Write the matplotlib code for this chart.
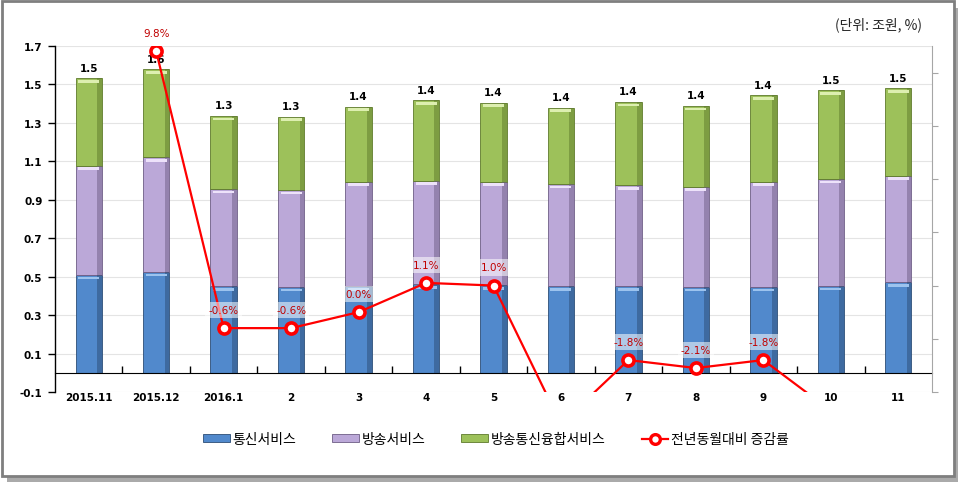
import numpy as np
import matplotlib.pyplot as plt
from matplotlib.patches import Rectangle, Patch
from matplotlib.lines import Line2D

# =========================
# data
# =========================
categories = ["2015.11", "2015.12", "2016.1", "2", "3", "4", "5",
              "6", "7", "8", "9", "10", "11"]
telecom = [0.51, 0.525, 0.45, 0.445, 0.45, 0.46, 0.455, 0.45, 0.45, 0.448, 0.448, 0.453, 0.47]
broadcast = [0.568, 0.595, 0.508, 0.508, 0.545, 0.54, 0.54, 0.534, 0.525, 0.521, 0.547, 0.557, 0.556]
convergence = [0.453, 0.458, 0.38, 0.38, 0.39, 0.417, 0.411, 0.396, 0.435, 0.421, 0.448, 0.459, 0.453]
growth = [np.nan, 9.8, -0.6, -0.6, 0.0, 1.1, 1.0, -4.2, -1.8, -2.1, -1.8, -3.7, -4.0]

series_names = ["통신서비스", "방송서비스", "방송통신융합서비스", "전년동월대비 증감률"]
colors = ["#5189CC", "#BBA8D8", "#9DC15A"]
edge_colors = ["#2C4D75", "#6E5D85", "#5E7A2B"]
light_colors = ["#9CC3EE", "#EDE2FA", "#DDEFB0"]

KR = ["Noto Sans CJK KR", "DejaVu Sans"]

# =========================
# figure & frame
# =========================
fig = plt.figure(figsize=(9.66, 4.89), dpi=100)
W, H = 966, 489
fig.patches.append(Rectangle((7 / W, 1 - 483 / H), 951 / W, 474 / H, transform=fig.transFigure,
                             facecolor="#AAAAAA", edgecolor="none", zorder=-3))
fig.patches.append(Rectangle((2 / W, 1 - 477 / H), 952 / W, 475 / H, transform=fig.transFigure,
                             facecolor="white", edgecolor="#7F7F7F", linewidth=2, zorder=-2))

ax = fig.add_axes([55 / W, 1 - 393 / H, (932 - 55) / W, (393 - 47) / H])
ax.set_facecolor("none")

x = np.arange(len(categories))
bw = 0.39
stack = [np.array(telecom), np.array(broadcast), np.array(convergence)]
bottom = np.zeros(len(categories))
for vals, c, ec, lc in zip(stack, colors, edge_colors, light_colors):
    ax.bar(x, vals, bw, bottom=bottom, color=c, edgecolor=ec, linewidth=0.6, zorder=2)
    # simple bevel: dark right side + light strip at top
    ax.bar(x + bw / 2 - 0.035, vals, 0.07, bottom=bottom, color=ec, alpha=0.5,
           linewidth=0, zorder=2.1)
    ax.bar(x, 0.012, bw * 0.8, bottom=bottom + vals - 0.022, color=lc,
           linewidth=0, zorder=2.2)
    bottom = bottom + vals

totals = bottom
for xi, t in zip(x, totals):
    ax.text(xi, t + 0.055, f"{t:.1f}", ha="center", va="center", fontsize=7.5,
            fontweight="bold", color="black", zorder=5)

ax.set_xlim(-0.5, len(categories) - 0.5)
ax.set_ylim(-0.1, 1.7)
ax.set_yticks(np.arange(-0.1, 1.71, 0.2))
ax.set_yticklabels([f"{v:.1f}" for v in np.arange(-0.1, 1.71, 0.2)],
                   fontsize=7.5, fontweight="bold")
ax.yaxis.grid(True, color="#E4E4E4", linewidth=0.8, zorder=0)
ax.set_axisbelow(True)
ax.tick_params(axis="y", direction="out", length=5, width=1, pad=4)

# x axis at zero
ax.spines["bottom"].set_position(("data", 0))
ax.spines["top"].set_visible(False)
ax.spines["right"].set_visible(False)
ax.spines["left"].set_linewidth(1.0)
ax.set_xticks(x)
ax.set_xticklabels(categories, fontsize=7.5, fontweight="bold")
ax.set_xticks(x[:-1] + 0.5, minor=True)
ax.tick_params(axis="x", which="major", length=0, pad=14)
ax.tick_params(axis="x", which="minor", direction="in", length=5, width=1)

# secondary axis for growth rate
ax2 = ax.twinx()
ax2.set_ylim(-3, 10)
ax2.set_yticks(np.arange(-3, 10, 2))
ax2.set_yticklabels([])
ax2.tick_params(axis="y", direction="out", length=4, color="#A6A6A6")
for s in ["top", "left", "bottom"]:
    ax2.spines[s].set_visible(False)
ax2.spines["right"].set_color("#A6A6A6")

ax2.plot(x, growth, color="#FF0000", linewidth=1.6, marker="o", markersize=8,
         markerfacecolor="white", markeredgecolor="#FF0000", markeredgewidth=2.6,
         zorder=4, clip_on=True)

for xi, g in zip(x, growth):
    if np.isnan(g) or g < -3 or g > 10:
        continue
    box = None if g > 5 else dict(boxstyle="square,pad=0.3", facecolor="white",
                                   edgecolor="none", alpha=0.55)
    ax2.annotate(f"{g:.1f}%", (xi, g), xytext=(0, 13), textcoords="offset points",
                 ha="center", va="center", fontsize=7.5, color="#C00000",
                 bbox=box, zorder=6)

# unit text
fig.text(922 / W, 1 - 25 / H, "(단위: 조원, %)", ha="right", va="center",
         fontsize=10, family=KR, color="#262626")

# legend
handles = [Patch(facecolor=c, edgecolor=ec, linewidth=0.6) for c, ec in zip(colors, edge_colors)]
handles.append(Line2D([0], [0], color="#FF0000", linewidth=1.6, marker="o", markersize=7,
                      markerfacecolor="white", markeredgecolor="#FF0000", markeredgewidth=2.4))
fig.legend(handles, series_names, loc="center", bbox_to_anchor=(496 / W, 1 - 440 / H),
           ncol=4, frameon=False, prop={"family": KR, "size": 10},
           handlelength=1.9, handleheight=0.5, handletextpad=0.2, columnspacing=2.6)

fig.savefig("out.png", dpi=100)
